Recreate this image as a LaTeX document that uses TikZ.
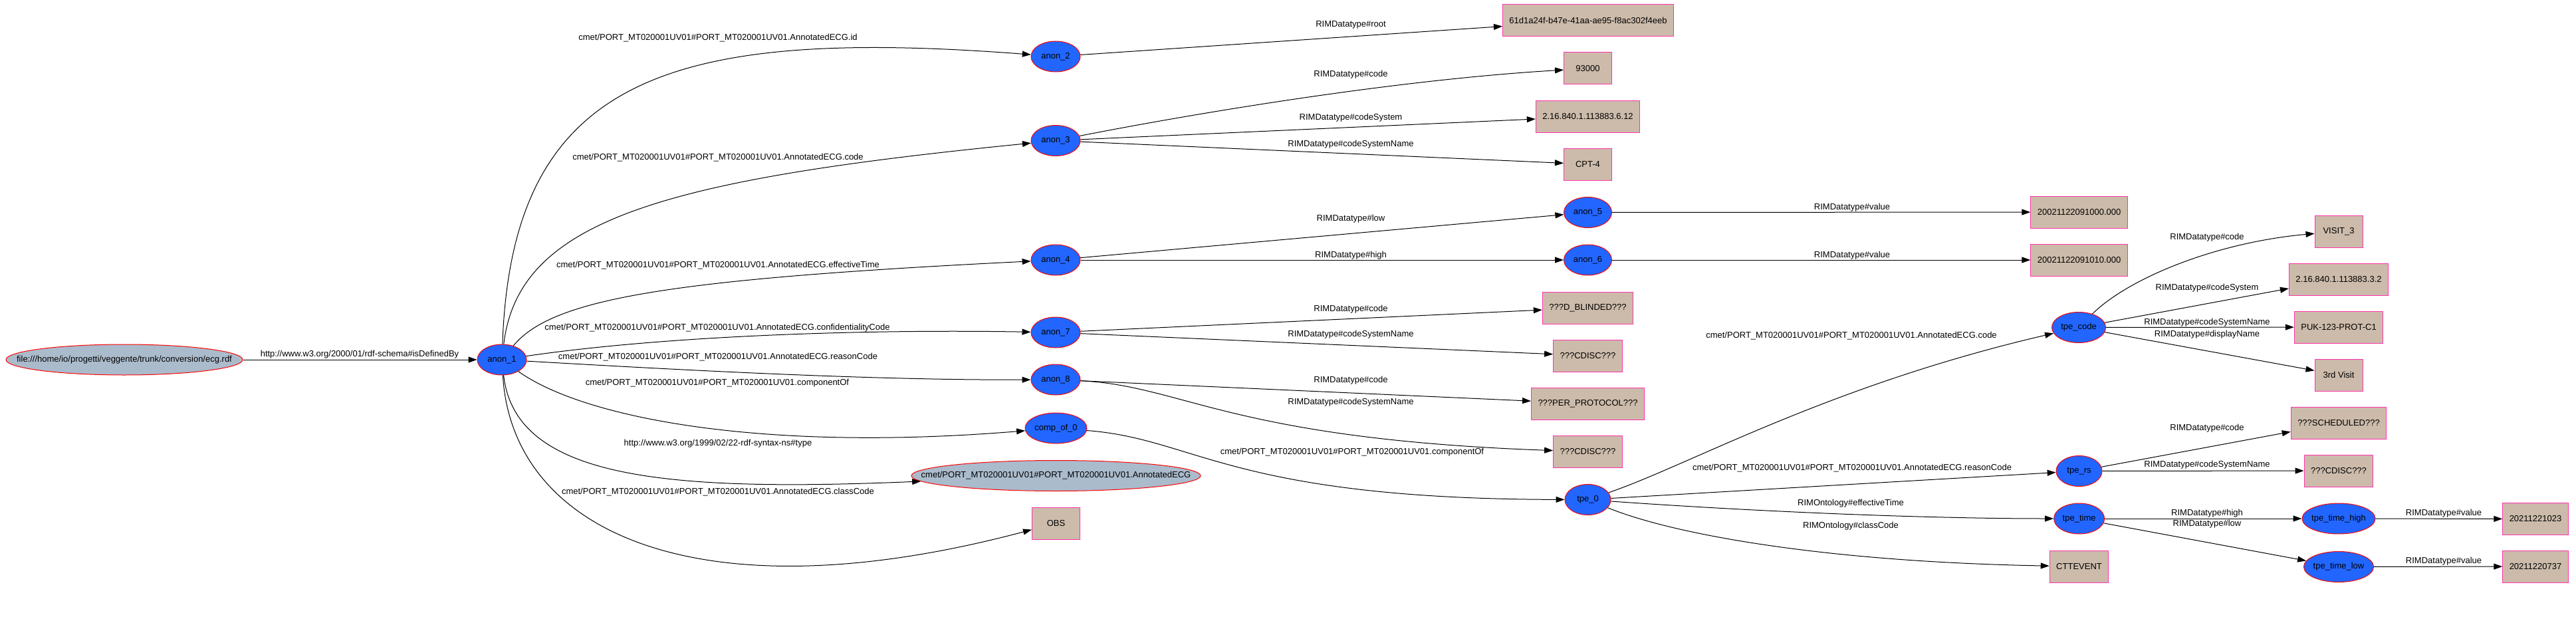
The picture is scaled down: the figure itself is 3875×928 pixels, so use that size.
\documentclass[tikz,border=0pt]{standalone}
\usepackage{fontspec}
\setmainfont{Liberation Sans}
\usetikzlibrary{arrows.meta,shapes.geometric}
\definecolor{resblue}{RGB}{34,102,255}
\definecolor{urigrey}{RGB}{170,187,204}
\definecolor{littan}{RGB}{204,187,170}
\definecolor{litpink}{RGB}{255,51,170}
\newcommand{\portmt}{cmet/PORT\_MT020001UV01\#PORT\_MT020001UV01}
% text that does not widen its ellipse
\newcommand{\nowide}[1]{\makebox[0pt]{#1}}

\begin{document}
\begin{tikzpicture}[
  x=1pt,y=-1pt,>={Triangle[length=13pt,width=9pt]},
  font=\fontsize{13}{15}\selectfont,
  res/.style={ellipse,draw=red,fill=resblue,line width=1pt,inner sep=0pt,minimum width=74pt,minimum height=46pt},
  uri/.style={ellipse,draw=red,fill=urigrey,line width=1pt,inner sep=0pt,minimum height=46pt},
  lit/.style={rectangle,draw=litpink,fill=littan,line width=1pt,inner xsep=10pt,minimum width=72pt,minimum height=48pt},
  rel/.style={->,line width=1pt},
  lbl/.style={inner sep=0pt}
]
\useasboundingbox (0,0) rectangle (3875,928);
\fill[white] (0,0) rectangle (3875,928);
% resources and literals
\node[uri,minimum width=356pt] (file) at (187,541) {\nowide{file:///home/io/progetti/veggente/trunk/conversion/ecg.rdf}};
\node[res] (anon1) at (755,541) {anon\_1};
\node[res] (anon2) at (1588,85) {anon\_2};
\node[res] (anon3) at (1588,211.5) {anon\_3};
\node[res] (anon4) at (1588,391) {anon\_4};
\node[res] (anon7) at (1588,500) {anon\_7};
\node[res] (anon8) at (1588,571) {anon\_8};
\node[res,minimum width=93pt] (comp0) at (1588.5,644) {comp\_of\_0};
\node[uri,minimum width=435pt] (annot) at (1588.5,715.5) {\nowide{\portmt.AnnotatedECG}};
\node[lit] (obs) at (1588.5,787) {OBS};
\node[lit] (root) at (2389,31) {61d1a24f-b47e-41aa-ae95-f8ac302f4eeb};
\node[lit] (c93000) at (2388.5,103) {93000};
\node[lit] (cs612) at (2388.5,175.5) {2.16.840.1.113883.6.12};
\node[lit] (cpt4) at (2388.5,247) {CPT-4};
\node[res,minimum width=72pt] (anon5) at (2388.5,319.5) {anon\_5};
\node[res,minimum width=72pt] (anon6) at (2388.5,391) {anon\_6};
\node[lit] (blinded) at (2388.5,463) {???D\_BLINDED???};
\node[lit] (cdiscA) at (2388.5,535) {???CDISC???};
\node[lit] (perproto) at (2388.5,607) {???PER\_PROTOCOL???};
\node[lit] (cdiscB) at (2388.5,679.5) {???CDISC???};
\node[res,minimum width=69pt] (tpe0) at (2388.5,751.5) {tpe\_0};
\node[lit] (v000) at (3127.6,319) {20021122091000.000};
\node[lit] (v010) at (3127.6,391) {20021122091010.000};
\node[res,minimum width=81pt] (tpecode) at (3127,492.5) {tpe\_code};
\node[res,minimum width=69pt] (tpers) at (3127.5,708.5) {tpe\_rs};
\node[res,minimum width=76pt] (tpetime) at (3127.6,780) {tpe\_time};
\node[lit] (cttevent) at (3127.5,852) {CTTEVENT};
\node[lit] (visit3) at (3518,348) {VISIT\_3};
\node[lit] (cs32) at (3518,420) {2.16.840.1.113883.3.2};
\node[lit] (puk) at (3518,492) {PUK-123-PROT-C1};
\node[lit] (visit3rd) at (3518,564) {3rd Visit};
\node[lit] (sched) at (3518,636) {???SCHEDULED???};
\node[lit] (cdiscC) at (3518,708) {???CDISC???};
\node[res,minimum width=110pt] (thigh) at (3518,780) {\nowide{tpe\_time\_high}};
\node[res,minimum width=105pt] (tlow) at (3518,852.5) {\nowide{tpe\_time\_low}};
\node[lit] (v023) at (3814,780.5) {20211221023};
\node[lit] (v737) at (3814,852) {20211220737};
% properties
\draw[rel] (file) -- (anon1);
\draw[rel] (anon1) .. controls (770,120) and (1000,40) .. (anon2);
\draw[rel] (anon1) .. controls (780,330) and (1000,270) .. (anon3);
\draw[rel] (anon1) .. controls (830,450) and (1000,420) .. (anon4);
\draw[rel] (anon1) .. controls (1000,505) and (1300,495) .. (anon7);
\draw[rel] (anon1) .. controls (1000,555) and (1300,572) .. (anon8);
\draw[rel] (anon1) .. controls (880,630) and (1150,680) .. (comp0);
\draw[rel] (anon1) .. controls (775,720) and (1000,740) .. (annot);
\draw[rel] (anon1) .. controls (770,800) and (1050,930) .. (obs);
\draw[rel] (anon2) -- (root);
\draw[rel] (anon3) .. controls (1800,170) and (2100,120) .. (c93000);
\draw[rel] (anon3) -- (cs612);
\draw[rel] (anon3) -- (cpt4);
\draw[rel] (anon4) -- (anon5);
\draw[rel] (anon4) -- (anon6);
\draw[rel] (anon5) -- (v000);
\draw[rel] (anon6) -- (v010);
\draw[rel] (anon7) -- (blinded);
\draw[rel] (anon7) -- (cdiscA);
\draw[rel] (anon8) -- (perproto);
\draw[rel] (anon8) .. controls (1780,580) and (1850,660) .. (cdiscB);
\draw[rel] (comp0) .. controls (1800,660) and (1850,750) .. (tpe0);
\draw[rel] (tpe0) .. controls (2540,700) and (2750,580) .. (tpecode);
\draw[rel] (tpe0) -- (tpers);
\draw[rel] (tpe0) .. controls (2650,770) and (2900,780) .. (tpetime);
\draw[rel] (tpe0) .. controls (2520,805) and (2750,845) .. (cttevent);
\draw[rel] (tpecode) .. controls (3200,420) and (3330,365) .. (visit3);
\draw[rel] (tpecode) -- (cs32);
\draw[rel] (tpecode) -- (puk);
\draw[rel] (tpecode) -- (visit3rd);
\draw[rel] (tpers) -- (sched);
\draw[rel] (tpers) -- (cdiscC);
\draw[rel] (tpetime) -- (thigh);
\draw[rel] (tpetime) -- (tlow);
\draw[rel] (thigh) -- (v023);
\draw[rel] (tlow) -- (v737);
% property labels
\node[lbl] (ldef) at (541,533) {http://www.w3.org/2000/01/rdf-schema\#isDefinedBy};
\node[lbl] (lid) at (1080,57) {\portmt.AnnotatedECG.id};
\node[lbl] (lcode) at (1080,237) {\portmt.AnnotatedECG.code};
\node[lbl] (ltime) at (1080,399) {\portmt.AnnotatedECG.effectiveTime};
\node[lbl] (lconf) at (1079,493) {\portmt.AnnotatedECG.confidentialityCode};
\node[lbl] (lreason) at (1080,537) {\portmt.AnnotatedECG.reasonCode};
\node[lbl] (lcomp) at (1079,576) {\portmt.componentOf};
\node[lbl] (ltype) at (1080,667) {http://www.w3.org/1999/02/22-rdf-syntax-ns\#type};
\node[lbl] (lclass) at (1080,740) {\portmt.AnnotatedECG.classCode};
\node[lbl] (lroot) at (2032,37) {RIMDatatype\#root};
\node[lbl] (lcodeA) at (2032,112) {RIMDatatype\#code};
\node[lbl] (lcsA) at (2032,177) {RIMDatatype\#codeSystem};
\node[lbl] (lcsnA) at (2032,217) {RIMDatatype\#codeSystemName};
\node[lbl] (llowA) at (2032,329) {RIMDatatype\#low};
\node[lbl] (lhighA) at (2032,384) {RIMDatatype\#high};
\node[lbl] (lcodeB) at (2032,465) {RIMDatatype\#code};
\node[lbl] (lcsnB) at (2032,503) {RIMDatatype\#codeSystemName};
\node[lbl] (lcodeC) at (2032,572) {RIMDatatype\#code};
\node[lbl] (lcsnC) at (2032,605) {RIMDatatype\#codeSystemName};
\node[lbl] (lcompB) at (2034,680) {\portmt.componentOf};
\node[lbl] (lvalA) at (2786,312) {RIMDatatype\#value};
\node[lbl] (lvalB) at (2786,384) {RIMDatatype\#value};
\node[lbl] (lcodeT) at (2785,505) {\portmt.AnnotatedECG.code};
\node[lbl] (lreasonT) at (2786,704) {\portmt.AnnotatedECG.reasonCode};
\node[lbl] (ltimeT) at (2784,757) {RIMOntology\#effectiveTime};
\node[lbl] (lclassT) at (2784,791) {RIMOntology\#classCode};
\node[lbl] (lcodeD) at (3320,357) {RIMDatatype\#code};
\node[lbl] (lcsD) at (3320,433) {RIMDatatype\#codeSystem};
\node[lbl] (lcsnD) at (3320,485) {RIMDatatype\#codeSystemName};
\node[lbl] (ldisp) at (3320,503) {RIMDatatype\#displayName};
\node[lbl] (lcodeE) at (3320,644) {RIMDatatype\#code};
\node[lbl] (lcsnE) at (3320,699) {RIMDatatype\#codeSystemName};
\node[lbl] (lhighT) at (3320,772) {RIMDatatype\#high};
\node[lbl] (llowT) at (3320,788) {RIMDatatype\#low};
\node[lbl] (lvalC) at (3676,772) {RIMDatatype\#value};
\node[lbl] (lvalD) at (3676,844) {RIMDatatype\#value};
\end{tikzpicture}
\end{document}
